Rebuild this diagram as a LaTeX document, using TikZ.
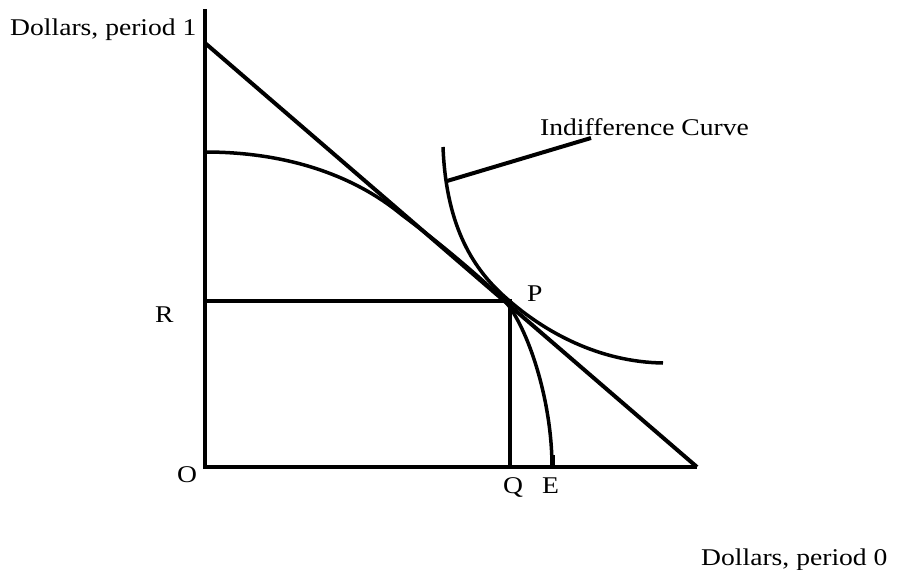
\documentclass[tikz,border=0pt]{standalone}
\usepackage{fontspec}
\setmainfont{Liberation Serif}[FakeStretch=1.15]
\begin{document}
\begin{tikzpicture}[x=1pt,y=-1pt,
  lbl/.style={anchor=base west,inner sep=0pt,font=\fontsize{24}{28}\selectfont},
  thick line/.style={line width=4pt,line cap=butt},
  curve/.style={line width=3.5pt}]
\useasboundingbox[fill=white] (0,0) rectangle (898,570);
% key points
\coordinate (O) at (205,467);
\coordinate (Ytop) at (205,9);
\coordinate (Xend) at (697,467);
\coordinate (B1) at (205,43);
\coordinate (Rpt) at (205,301);
\coordinate (P) at (510,301);
\coordinate (Q) at (510,467);
\coordinate (F0) at (205,152);
\coordinate (E) at (552,467);
\coordinate (Ic) at (447,181);
\coordinate (Iend) at (591,138);
% axes
\draw[thick line] (Ytop) -- (O) -- (Xend);
% budget line
\draw[thick line] (B1) -- (Xend);
% R and Q lines
\draw[thick line] (Rpt) -- (P) -- (Q);
% production frontier
\draw[curve] (F0) .. controls (288,152) and (355,176) .. (402,215)
  .. controls (437,241) and (472,270) .. (505,301)
  .. controls (528,328) and (552,400) .. (E);
\draw[line width=5pt] (552,455) -- (552,469);
% indifference curve
\draw[curve] (443,147) .. controls (446,222) and (470,266) .. (505,297)
  .. controls (545,333) and (600,362) .. (663,363);
% labels
\node[lbl] (ylab) at (10,35) {Dollars, period 1};
\node[lbl] (xlab) at (701,565) {Dollars, period 0};
\node[lbl] (iclab) at (540,135) {Indifference Curve};
\node[lbl] (Rlab) at (155,322) {R};
\node[lbl] (Olab) at (177,482) {O};
\node[lbl] (Plab) at (527,301) {P};
\node[lbl] (Qlab) at (503,493) {Q};
\node[lbl] (Elab) at (542,493) {E};
% pointer
\draw[thick line] (Ic) -- (Iend);
\end{tikzpicture}
\end{document}
